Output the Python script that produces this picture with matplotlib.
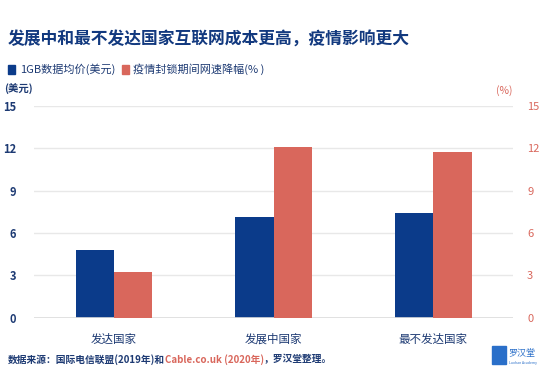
import matplotlib
matplotlib.use('Agg')
import matplotlib.pyplot as plt
import numpy as np

plt.rcParams['font.family'] = ['Noto Sans CJK SC', 'DejaVu Sans']

categorias = ['发达国家', '发展中国家', '最不发达国家']
preco_gb = [4.8, 7.15, 7.45]          # 1GB数据均价(美元)
queda_velocidade = [3.2, 12.1, 11.75]  # 疫情封锁期间网速降幅(%)
ticks = [0, 3, 6, 9, 12, 15]

azul = '#0b3b8a'
vermelho = '#d9675c'
texto = '#1d3a73'

fig = plt.figure(figsize=(5.5, 3.71), dpi=100)
ax = fig.add_axes([0.062, 0.144, 0.871, 0.570])
ax2 = ax.twinx()

x = np.arange(len(categorias))
w = 0.24
ax.bar(x - w / 2, preco_gb, w, color=azul, zorder=3)
ax2.bar(x + w / 2, queda_velocidade, w, color=vermelho, zorder=3)

for a in (ax, ax2):
    a.set_ylim(0, 15)
    a.set_yticks(ticks)
    a.set_xlim(-0.5, 2.5)
    for s in a.spines.values():
        s.set_visible(False)
    a.tick_params(length=0)

ax.grid(axis='y', color='#e8e8e8', linewidth=1, zorder=0)
ax.axhline(0, color='#dcdcdc', linewidth=1.2, zorder=4)
ax.set_xticks(x)
ax.set_xticklabels(categorias, fontsize=8.3, color=texto)
ax.tick_params(axis='x', pad=11)
ax.tick_params(axis='y', pad=13)
for t in ax.get_yticklabels():
    t.set_color(texto)
    t.set_fontweight('bold')
    t.set_fontsize(8)
ax2.tick_params(axis='y', pad=10)
for t in ax2.get_yticklabels():
    t.set_color(vermelho)
    t.set_fontsize(8)

# titulo e legenda
fig.text(0.014, 0.892, '发展中和最不发达国家互联网成本更高，疫情影响更大',
         fontsize=12.1, fontweight='bold', color='#12397f', va='center')
fig.patches.append(plt.Rectangle((0.015, 0.800), 0.012, 0.026, color=azul,
                                 transform=fig.transFigure, figure=fig))
fig.text(0.036, 0.813, '1GB数据均价(美元)', fontsize=8, color=texto, va='center')
fig.patches.append(plt.Rectangle((0.222, 0.800), 0.012, 0.026, color=vermelho,
                                 transform=fig.transFigure, figure=fig))
fig.text(0.241, 0.813, '疫情封锁期间网速降幅(% )', fontsize=8, color=texto, va='center')

fig.text(0.008, 0.762, '(美元)', fontsize=7.5, fontweight='bold', color=texto, va='center')
fig.text(0.932, 0.757, '(%)', fontsize=7.5, color=vermelho, va='center', ha='right')

# fonte
partes = [('数据来源：国际电信联盟(2019年)和', texto),
          ('Cable.co.uk (2020年)', vermelho),
          ('，罗汉堂整理。', texto)]
fig.canvas.draw()
r = fig.canvas.get_renderer()
xpos = 0.014
for s, c in partes:
    t = fig.text(xpos, 0.032, s, fontsize=7, fontweight='bold', color=c, va='center')
    bb = t.get_window_extent(renderer=r)
    xpos += bb.width / fig.bbox.width

# logo
fig.patches.append(plt.Rectangle((0.895, 0.018), 0.025, 0.05, color='#2a6fc9',
                                 transform=fig.transFigure, figure=fig))
fig.text(0.925, 0.048, '罗汉堂', fontsize=6.5, color='#2a6fc9', va='center')
fig.text(0.925, 0.022, 'Luohan Academy', fontsize=2.5, color='#2a6fc9', va='center')

fig.savefig('out.png', dpi=100)
